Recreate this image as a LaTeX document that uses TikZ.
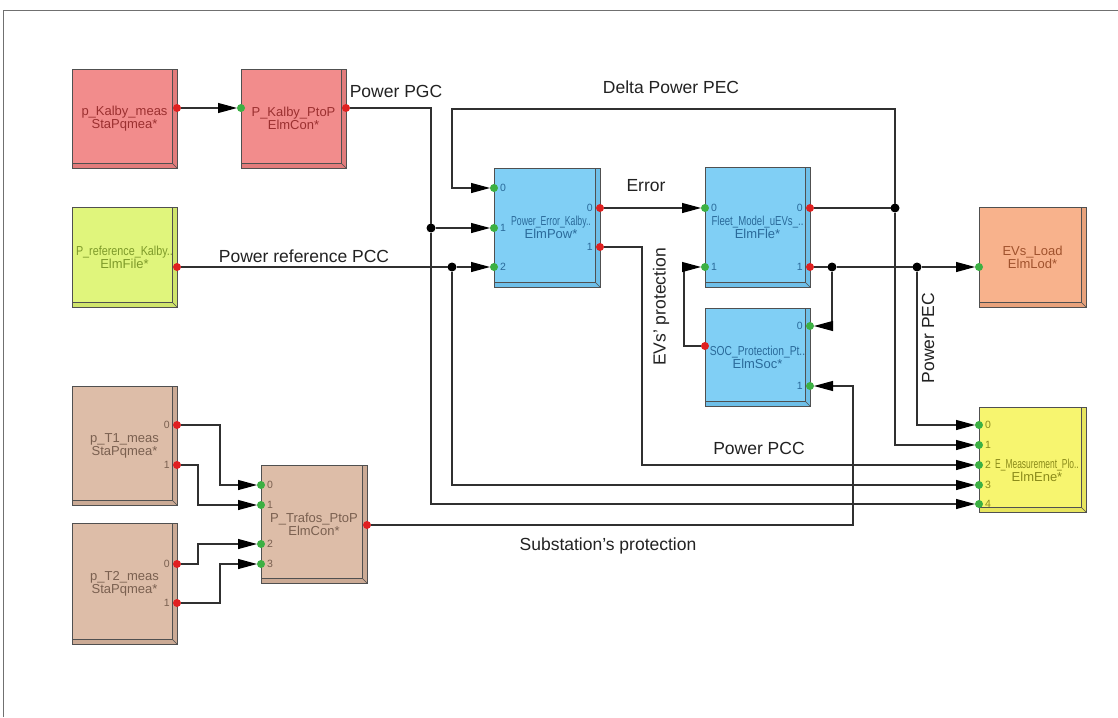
\documentclass[tikz,border=0pt]{standalone}
\usepackage{fontspec}
\setmainfont{Liberation Sans}
\usepackage{graphicx}
\usetikzlibrary{arrows.meta}
\definecolor{redfill}{HTML}{F28C8C}
\definecolor{redbev}{HTML}{E27C7C}
\definecolor{redtext}{HTML}{9B3030}
\definecolor{grnfill}{HTML}{E0F57C}
\definecolor{grnbev}{HTML}{D0E56C}
\definecolor{grntext}{HTML}{7E9A2A}
\definecolor{bluefill}{HTML}{80CFF5}
\definecolor{bluebev}{HTML}{6EBFE8}
\definecolor{bluetext}{HTML}{2A6A9A}
\definecolor{orfill}{HTML}{F8B28C}
\definecolor{orbev}{HTML}{E8A27C}
\definecolor{ortext}{HTML}{A0522D}
\definecolor{yelfill}{HTML}{F7F56F}
\definecolor{yelbev}{HTML}{E7E55F}
\definecolor{yeltext}{HTML}{8B8B1A}
\definecolor{brfill}{HTML}{DDBDA8}
\definecolor{brbev}{HTML}{CBAA95}
\definecolor{brtext}{HTML}{7A6050}
\definecolor{boxline}{HTML}{505050}
\definecolor{wirecol}{HTML}{303030}
\definecolor{portgreen}{HTML}{3CB043}
\definecolor{portred}{HTML}{E02020}
\definecolor{framecol}{HTML}{707070}
\definecolor{labcol}{HTML}{222222}
\newcommand{\bxfont}{\fontsize{13}{11.5}\selectfont}
\newcommand{\ptfont}{\fontsize{10.5}{10.5}\selectfont}
\newcommand{\wrfont}{\fontsize{17.5}{18}\selectfont}
\newcommand{\sqz}[2]{\scalebox{#1}[1]{#2}}
\begin{document}
\begin{tikzpicture}[x=1pt,y=-1pt,
  bevel/.style={path picture={
    \fill[#1] ([xshift=-5pt]path picture bounding box.north east) rectangle (path picture bounding box.south east);
    \fill[#1] (path picture bounding box.south west) rectangle ([yshift=5pt]path picture bounding box.south east);
    \draw[boxline, line width=0.6pt] ([xshift=-5pt]path picture bounding box.north east) -- ([xshift=-5pt,yshift=5pt]path picture bounding box.south east) -- ([yshift=5pt]path picture bounding box.south west);
    \draw[boxline, line width=0.6pt] ([xshift=-5pt,yshift=5pt]path picture bounding box.south east) -- (path picture bounding box.south east);
  }},
  blk/.style={draw=boxline, line width=1pt, inner sep=0pt, outer sep=0pt, align=center, font=\bxfont, rectangle},
  blkred/.style={blk, fill=redfill, text=redtext, bevel=redbev},
  blkgrn/.style={blk, fill=grnfill, text=grntext, bevel=grnbev},
  blkblue/.style={blk, fill=bluefill, text=bluetext, bevel=bluebev},
  blkor/.style={blk, fill=orfill, text=ortext, bevel=orbev},
  blkyel/.style={blk, fill=yelfill, text=yeltext, bevel=yelbev},
  blkbr/.style={blk, fill=brfill, text=brtext, bevel=brbev},
  wire/.style={draw=wirecol, line width=1.1pt},
  arr/.style={wire, -{Triangle[length=19pt,width=10pt,fill=black,color=black]}},
  inport/.style={circle, fill=portgreen, inner sep=0pt, minimum size=8pt, outer sep=0pt},
  outport/.style={circle, fill=portred, inner sep=0pt, minimum size=8pt, outer sep=0pt},
  junc/.style={circle, fill=black, inner sep=0pt, minimum size=9pt, outer sep=0pt},
  plab/.style={font=\ptfont, inner sep=0pt},
  inlab/.style={plab, anchor=west, xshift=6pt},
  outlab/.style={plab, anchor=east, xshift=-7pt},
  wlab/.style={font=\wrfont, text=labcol, inner sep=0pt}
]
\useasboundingbox (0,0) rectangle (1118,717);
\fill[white] (0,0) rectangle (1118,717);
% frame
\draw[framecol, line width=1.5pt] (3.5,717) -- (3.5,10.5) -- (1118,10.5);

% blocks
\node[blkred, minimum width=105pt, minimum height=99pt] (pkm) at (124.5,118.5) {p\_Kalby\_meas\\StaPqmea*};
\node[blkred, minimum width=105pt, minimum height=99pt] (pkp) at (293.5,118.5) {P\_Kalby\_PtoP\\ElmCon*};
\node[blkgrn, minimum width=105pt, minimum height=100pt] (pref) at (124.5,257) {\sqz{0.83}{P\_reference\_Kalby..}\\ElmFile*};
\node[blkblue, minimum width=106pt, minimum height=119pt] (pe) at (547,227.5) {};
\node[font=\bxfont, text=bluetext, align=center, inner sep=0pt] (petxt) at (551,227.5) {\sqz{0.67}{Power\_Error\_Kalby..}\\ElmPow*};
\node[blkblue, minimum width=105pt, minimum height=120pt] (fm) at (757.5,227) {\sqz{0.74}{Fleet\_Model\_uEVs\_..}\\ElmFle*};
\node[blkblue, minimum width=105pt, minimum height=98pt] (soc) at (757.5,357) {\sqz{0.79}{SOC\_Protection\_Pt..}\\ElmSoc*};
\node[blkor, minimum width=107pt, minimum height=100pt] (evl) at (1032.5,257) {EVs\_Load\\ElmLod*};
\node[blkyel, minimum width=107pt, minimum height=105pt] (em) at (1032.5,459.5) {};
\node[font=\bxfont, text=yeltext, align=center, inner sep=0pt] (emtxt) at (1037,470) {\sqz{0.65}{E\_Measurement\_Plo..}\\ElmEne*};
\node[blkbr, minimum width=105pt, minimum height=119pt] (t1) at (124.5,445.5) {p\_T1\_meas\\StaPqmea*};
\node[blkbr, minimum width=105pt, minimum height=121pt] (t2) at (124.5,583.5) {p\_T2\_meas\\StaPqmea*};
\node[blkbr, minimum width=106pt, minimum height=118pt] (tr) at (314,524) {P\_Trafos\_PtoP\\ElmCon*};

% ports
\node[outport] (pkm-o) at (177,108) {};
\node[inport] (pkp-i) at (241,108) {};
\node[outport] (pkp-o) at (346,108) {};
\node[outport] (pref-o) at (177,267) {};
\node[inport] (pe-i0) at (494,188) {};
\node[inport] (pe-i1) at (494,228) {};
\node[inport] (pe-i2) at (494,267) {};
\node[outport] (pe-o0) at (600,208) {};
\node[outport] (pe-o1) at (600,247) {};
\node[inport] (fm-i0) at (705,208) {};
\node[inport] (fm-i1) at (705,267) {};
\node[outport] (fm-o0) at (810,208) {};
\node[outport] (fm-o1) at (810,267) {};
\node[inport] (soc-i0) at (810,326) {};
\node[inport] (soc-i1) at (810,386) {};
\node[outport] (soc-o) at (705,346) {};
\node[inport] (evl-i) at (979,267) {};
\node[inport] (em-i0) at (979,425) {};
\node[inport] (em-i1) at (979,445) {};
\node[inport] (em-i2) at (979,465) {};
\node[inport] (em-i3) at (979,485) {};
\node[inport] (em-i4) at (979,504) {};
\node[outport] (t1-o0) at (177,425) {};
\node[outport] (t1-o1) at (177,465) {};
\node[outport] (t2-o0) at (177,564) {};
\node[outport] (t2-o1) at (177,603) {};
\node[inport] (tr-i0) at (261,485) {};
\node[inport] (tr-i1) at (261,505) {};
\node[inport] (tr-i2) at (261,544) {};
\node[inport] (tr-i3) at (261,564) {};
\node[outport] (tr-o) at (367,525) {};

% port labels
\node[inlab, text=bluetext] (pe-l0) at (pe-i0) {0};
\node[inlab, text=bluetext] (pe-l1) at (pe-i1) {1};
\node[inlab, text=bluetext] (pe-l2) at (pe-i2) {2};
\node[outlab, text=bluetext] (pe-lo0) at (pe-o0) {0};
\node[outlab, text=bluetext] (pe-lo1) at (pe-o1) {1};
\node[inlab, text=bluetext] (fm-l0) at (fm-i0) {0};
\node[inlab, text=bluetext] (fm-l1) at (fm-i1) {1};
\node[outlab, text=bluetext] (fm-lo0) at (fm-o0) {0};
\node[outlab, text=bluetext] (fm-lo1) at (fm-o1) {1};
\node[outlab, text=bluetext] (soc-l0) at (soc-i0) {0};
\node[outlab, text=bluetext] (soc-l1) at (soc-i1) {1};
\node[inlab, text=yeltext] (em-l0) at (em-i0) {0};
\node[inlab, text=yeltext] (em-l1) at (em-i1) {1};
\node[inlab, text=yeltext] (em-l2) at (em-i2) {2};
\node[inlab, text=yeltext] (em-l3) at (em-i3) {3};
\node[inlab, text=yeltext] (em-l4) at (em-i4) {4};
\node[outlab, text=brtext] (t1-l0) at (t1-o0) {0};
\node[outlab, text=brtext] (t1-l1) at (t1-o1) {1};
\node[outlab, text=brtext] (t2-l0) at (t2-o0) {0};
\node[outlab, text=brtext] (t2-l1) at (t2-o1) {1};
\node[inlab, text=brtext] (tr-l0) at (tr-i0) {0};
\node[inlab, text=brtext] (tr-l1) at (tr-i1) {1};
\node[inlab, text=brtext] (tr-l2) at (tr-i2) {2};
\node[inlab, text=brtext] (tr-l3) at (tr-i3) {3};

% junctions
\node[junc] (j1) at (431,228) {};
\node[junc] (j2) at (452,267) {};
\node[junc] (j3) at (895,208) {};
\node[junc] (j4) at (832,267) {};
\node[junc] (j5) at (917,267) {};

% bend coordinates
\coordinate (dtop) at (452,109);
\coordinate (pcc) at (642,465);
\coordinate (evp) at (684,346);
\coordinate (sp) at (853,386);
\coordinate (k1) at (220,485);
\coordinate (k2) at (198,505);
\coordinate (k3) at (198,544);
\coordinate (k4) at (220,564);

% wires
\draw[arr] (pkm-o) -- (pkp-i);
\draw[wire] (pkp-o) -| (j1);
\draw[arr] (j1) -- (pe-i1);
\draw[arr] (j1) |- (em-i4);
\draw[arr] (pref-o) -- (j2) -- (pe-i2);
\draw[arr] (j2) |- (em-i3);
\draw[wire] (fm-o0) -- (j3);
\draw[arr] (j3) |- (dtop) |- (pe-i0);
\draw[arr] (j3) |- (em-i1);
\draw[arr] (pe-o0) -- (fm-i0);
\draw[arr] (pe-o1) -| (pcc) -- (em-i2);
\draw[wire] (fm-o1) -- (j4) -- (j5);
\draw[arr] (j5) -- (evl-i);
\draw[arr] (j4) |- (soc-i0);
\draw[arr] (j5) |- (em-i0);
\draw[arr] (soc-o) -- (evp) |- (fm-i1);
\draw[arr] (tr-o) -| (sp) -- (soc-i1);
\draw[arr] (t1-o0) -| (k1) -- (tr-i0);
\draw[arr] (t1-o1) -| (k2) -- (tr-i1);
\draw[arr] (t2-o0) -| (k3) -- (tr-i2);
\draw[arr] (t2-o1) -| (k4) -- (tr-i3);

% wire labels
\node[wlab] (lpgc) at (396,91) {Power PGC};
\node[wlab] (ldpec) at (671,87) {Delta Power PEC};
\node[wlab] (lerr) at (646,186) {Error};
\node[wlab] (lref) at (304,256) {Power reference PCC};
\node[wlab] (lpcc) at (759,448) {Power PCC};
\node[wlab] (lsub) at (608,546) {Substation's protection};
\node[wlab, rotate=90] (levp) at (661,307) {EVs' protection};
\node[wlab, rotate=90] (lpec) at (928,338) {Power PEC};
\end{tikzpicture}
\end{document}
